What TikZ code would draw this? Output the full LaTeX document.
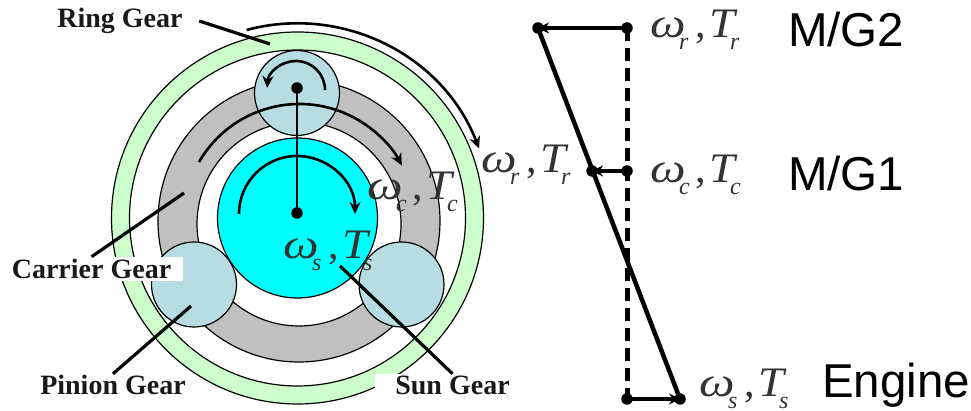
\documentclass[tikz,border=0pt]{standalone}
\usepackage{fontspec}
\setmainfont{Liberation Serif}
\newfontfamily\sansf{Liberation Sans}
\usetikzlibrary{arrows.meta}
\definecolor{ringc}{HTML}{CCFFCC}
\definecolor{carc}{HTML}{C0C0C0}
\definecolor{sunc}{HTML}{00FFFF}
\definecolor{pinc}{HTML}{B7DDE3}
\newcommand{\subq}[1]{\raisebox{-12pt}{\fontsize{24}{24}\selectfont #1}}
\newcommand{\wtl}[1]{{\fontsize{42}{42}\selectfont\itshape
  \rlap{\scalebox{1.2}[1]{ω}}\hspace*{29pt}\rlap{\subq{#1}}\hspace*{16pt}\rlap{\upshape,}\hspace*{14pt}\rlap{\scalebox{1.1}[1]{T}}\hspace*{21pt}\subq{#1}}}
\tikzset{
  x=1pt,y=1pt,
  gear/.style={draw=black,line width=1.2pt},
  tag/.style={fill=white,inner sep=0pt,font=\bfseries\fontsize{28}{28}\selectfont,text=black!90,anchor=center},
  leader/.style={line width=3.2pt,black},
  turn/.style={line width=2.6pt,-{Stealth[length=12pt,width=11pt]}},
  dotp/.style={circle,fill=black,inner sep=0pt,minimum size=#1},
  dotp/.default=11.5pt,
  qty/.style={anchor=base west,inner sep=0pt,text=black!80},
  dev/.style={anchor=base west,inner sep=0pt,font=\sansf\fontsize{47.5}{47.5}\selectfont},
  lever/.style={line width=4.5pt,line cap=round},
  force/.style={line width=4pt,-{Stealth[length=11pt,width=11pt]}},
  base/.style={line width=5pt,dash pattern=on 13pt off 7pt}
}
\begin{document}
\begin{tikzpicture}
\useasboundingbox (0,0) rectangle (971,411);
% ring and carrier
\fill[white] (0,0) rectangle (971,411);
\draw[gear,fill=ringc] (297.5,193) circle (186);
\draw[gear,fill=white] (297.5,193) circle (168);
\draw[gear,fill=carc] (299,190) circle (141);
\draw[gear,fill=white] (299,187) circle (102);
\node[gear,circle,fill=sunc,minimum size=160pt,inner sep=0pt] (sun) at (297.5,193) {};
\node[gear,circle,fill=pinc,minimum size=85pt,inner sep=0pt] (pinT) at (297,318) {};
\node[gear,circle,fill=pinc,minimum size=85pt,inner sep=0pt] (pinL) at (194,126.5) {};
\node[gear,circle,fill=pinc,minimum size=85pt,inner sep=0pt] (pinR) at (401.5,126.5) {};
% rotation arrows
\draw[turn] (246.5,381) arc[start angle=105,end angle=21,radius=195];
\draw[turn] (199,249) arc[start angle=150,end angle=28,radius=116];
\draw[turn] (239,197) arc[start angle=180,end angle=0,radius=58];
\draw[turn] (325,321) arc[start angle=0,end angle=176,radius=29];
% shaft
\node[dotp] (dT) at (297,323) {};
\node[dotp] (dS) at (297,198) {};
\draw[line width=2pt] (dT.center) -- (dS.center);
% quantities inside gears
\node[qty] (q1) at (367,211) {\wtl{c}};
\node[qty] (q2) at (481,238) {\wtl{r}};
\node[qty] (q3) at (283,152) {\wtl{s}};
% tags
\node[tag,minimum width=158pt,minimum height=23pt] (ring) at (120,390) {Ring Gear};
\node[tag,minimum width=183pt,minimum height=24pt] (carrier) at (91.5,142) {Carrier Gear};
\node[tag,minimum width=161pt,minimum height=22pt] (pinion) at (113,26) {Pinion Gear};
\node[tag,minimum width=155pt,minimum height=22pt] (sung) at (452.5,26) {Sun Gear};
\coordinate (aRing) at (270,367);
\coordinate (aCar) at (184,218);
\coordinate (aPin) at (191,105);
\coordinate (aSun) at (340,145);
\draw[leader] (ring.east) -- (aRing);
\draw[leader] (carrier.north) -- (aCar);
\draw[leader] (pinion.north) -- (aPin);
\draw[leader] (sung.north) -- (aSun);
% lever diagram
\node[dotp] (a) at (538,383) {};
\node[dotp] (b) at (627,383) {};
\node[dotp] (c) at (592,240) {};
\node[dotp] (d) at (627,240) {};
\node[dotp] (e) at (627,12) {};
\node[dotp] (f) at (680,12) {};
\draw[base] (b.center) -- (e.center);
\draw[lever] (a.center) -- (f.center);
\draw[force] (b.center) -- (a.center);
\draw[force] (d.center) -- (c.center);
\draw[force] (e.center) -- (f.center);
\node[qty] (lr) at (650,373) {\wtl{r}};
\node[qty] (lc) at (650,228) {\wtl{c}};
\node[qty] (ls) at (699,14) {\wtl{s}};
\node[dev] (m2) at (788,364) {M/G2};
\node[dev] (m1) at (788,220) {M/G1};
\node[dev] (en) at (822,13) {Engine};
\end{tikzpicture}
\end{document}
